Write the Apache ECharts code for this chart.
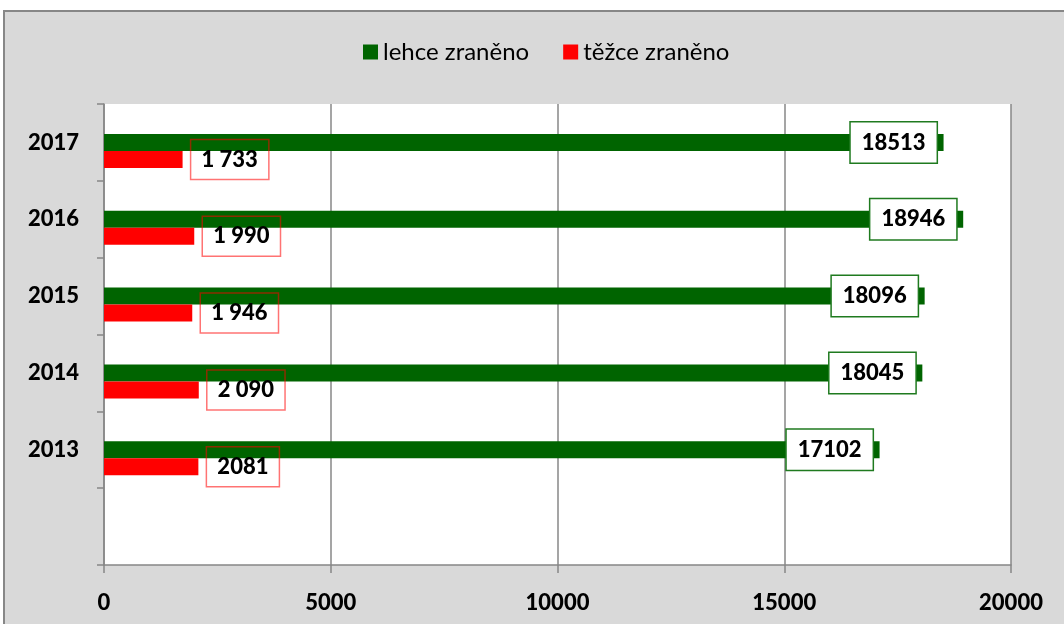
<!DOCTYPE html>
<html>
<head>
<meta charset="utf-8">
<script src="https://cdn.jsdelivr.net/npm/echarts@6/dist/echarts.min.js"></script>
<style>
html,body{margin:0;padding:0;background:#fff;}
#chart{width:1064px;height:624px;}
</style>
</head>
<body>
<div id="chart"></div>
<script>
const categories = ['', '2013', '2014', '2015', '2016', '2017'];
const lehce = [null, 17102, 18045, 18096, 18946, 18513];
const tezce = [null, 2081, 2090, 1946, 1990, 1733];
const tezceLabels = ['', '2081', '2 090', '1 946', '1 990', '1 733'];
const xTicks = [0, 5000, 10000, 15000, 20000];
const seriesNames = ['lehce zraněno', 'těžce zraněno'];

const FONT = 'Lato';
const BOLD = 900;
const chart = echarts.init(document.getElementById('chart'), null, {renderer: 'canvas'});
chart.setOption({
  backgroundColor: '#ffffff',
  animation: false,
  graphic: [{
    type: 'rect', z: -100, silent: true,
    shape: {x: 4, y: 11, width: 1100, height: 700},
    style: {fill: '#d9d9d9', stroke: '#878787', lineWidth: 2}
  }],
  legend: {
    data: seriesNames,
    left: 358, top: 35,
    itemWidth: 15, itemHeight: 15, itemGap: 34,
    icon: 'rect',
    textStyle: {fontFamily: FONT, fontSize: 24, color: '#000'}
  },
  grid: {
    left: 104, right: 53, top: 104, bottom: 59,
    show: true, backgroundColor: '#ffffff', borderWidth: 0
  },
  xAxis: {
    type: 'value', min: xTicks[0], max: xTicks[xTicks.length - 1], interval: 5000,
    axisLine: {show: true, lineStyle: {color: '#878787', width: 1.5}},
    axisTick: {show: true, length: 8, lineStyle: {color: '#878787', width: 1.5}},
    splitLine: {show: true, lineStyle: {color: '#878787', width: 1.5}},
    axisLabel: {
      fontFamily: FONT, fontSize: 22, fontWeight: BOLD, color: '#000', margin: 27,
      formatter: v => String(v)
    }
  },
  yAxis: {
    type: 'category', data: categories,
    axisLine: {show: true, lineStyle: {color: '#878787', width: 1.5}},
    axisTick: {show: true, length: 7, lineStyle: {color: '#878787', width: 1.5}},
    splitLine: {show: false},
    axisLabel: {fontFamily: FONT, fontSize: 22, fontWeight: BOLD, color: '#000', margin: 25}
  },
  series: [
    {
      name: '_pad', type: 'bar', data: categories.map(() => null),
      barWidth: 17, barGap: '0%', silent: true
    },
    {
      name: seriesNames[0], type: 'bar', data: lehce,
      barWidth: 17, barGap: '0%',
      itemStyle: {color: '#006400'},
      label: {
        show: true, position: 'insideRight', distance: 7,
        fontFamily: FONT, fontSize: 22, fontWeight: BOLD, color: '#000',
        backgroundColor: '#fff', borderColor: '#1f7a1f', borderWidth: 1.5,
        padding: [8, 11, 8, 11], lineHeight: 24
      }
    },
    {
      name: seriesNames[1], type: 'bar', data: tezce,
      barWidth: 17, barGap: '0%',
      itemStyle: {color: '#ff0000'},
      label: {
        show: true, position: 'right', distance: 8,
        formatter: p => tezceLabels[p.dataIndex],
        fontFamily: FONT, fontSize: 22, fontWeight: BOLD, color: '#000',
        borderColor: 'rgba(255,0,0,0.55)', borderWidth: 1.5,
        padding: [8, 11, 8, 11], lineHeight: 24
      }
    }
  ]
});
</script>
</body>
</html>
